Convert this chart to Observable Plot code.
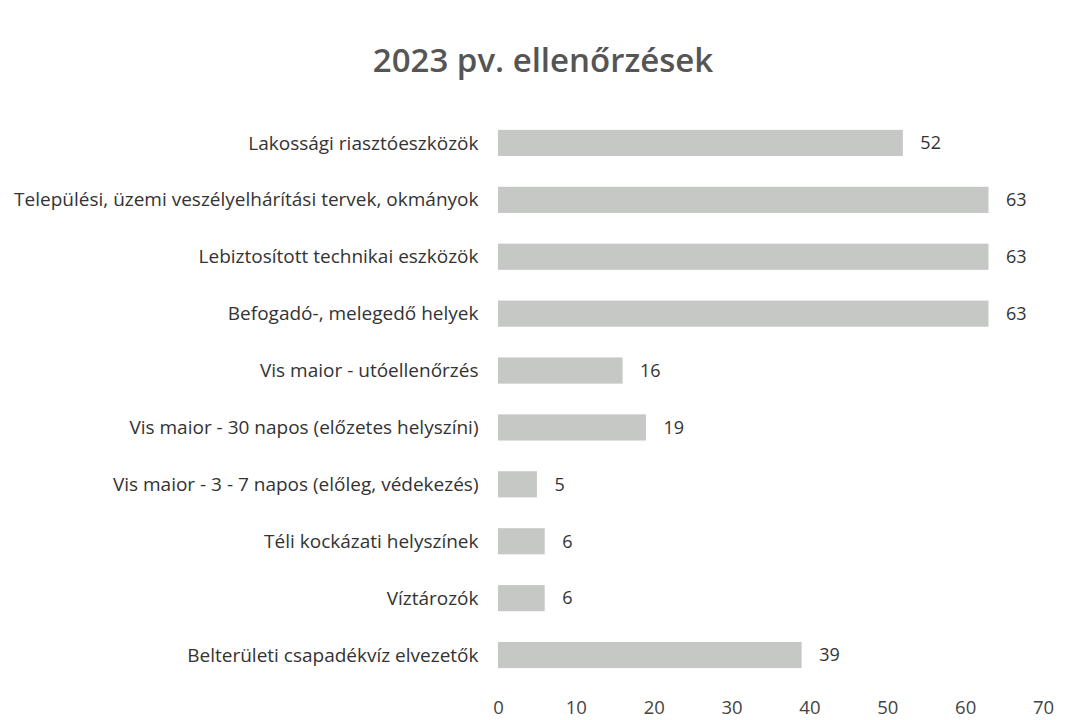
<!DOCTYPE html>
<html>
<head>
<meta charset="utf-8">
<script src="https://cdn.jsdelivr.net/npm/d3@7"></script>
<script src="https://cdn.jsdelivr.net/npm/@observablehq/plot@0.6"></script>
<style>
  html, body { margin: 0; padding: 0; background: #fff; }
  #wrap { position: relative; width: 1074px; height: 720px; overflow: hidden; }
  #title { position: absolute; left: 0; top: 37px; width: 1086px; text-align: center;
           font-family: "Open Sans", sans-serif; font-weight: 600; font-size: 33px; color: #555; }
  #chart { position: absolute; left: 0; top: 0; }
</style>
</head>
<body>
<div id="wrap">
  <div id="title">2023 pv. ellenőrzések</div>
  <div id="chart"></div>
</div>
<script>
const categories = [
  "Lakossági riasztóeszközök",
  "Települési, üzemi veszélyelhárítási tervek, okmányok",
  "Lebiztosított technikai eszközök",
  "Befogadó-, melegedő helyek",
  "Vis maior - utóellenőrzés",
  "Vis maior - 30 napos (előzetes helyszíni)",
  "Vis maior - 3 - 7 napos (előleg, védekezés)",
  "Téli kockázati helyszínek",
  "Víztározók",
  "Belterületi csapadékvíz elvezetők"
];
const values = [52, 63, 63, 63, 16, 19, 5, 6, 6, 39];
const xTicks = [0, 10, 20, 30, 40, 50, 60, 70];

const data = categories.map((c, i) => ({category: c, value: values[i]}));

const chart = Plot.plot({
  width: 1074,
  height: 720,
  marginLeft: 498,
  marginRight: 31,
  marginTop: 114.5,
  marginBottom: 36.5,
  style: {fontFamily: "'Open Sans', sans-serif", fontSize: "18px", color: "#333", background: "transparent"},
  x: {domain: [0, 70], ticks: xTicks, label: null},
  y: {domain: categories, label: null, paddingInner: 0.54, paddingOuter: 0.27, round: false},
  marks: [
    Plot.barX(data, {x: "value", y: "category", fill: "#c6c8c6"}),
    Plot.text(data, {x: "value", y: "category", text: d => String(d.value), textAnchor: "start", dx: 17, fill: "#333", fontSize: 18}),
    Plot.axisY({tickSize: 0, tickPadding: 20, fontSize: 19, label: null}),
    Plot.axisX({ticks: xTicks, tickSize: 0, tickPadding: 17, fontSize: 18.5, label: null, fill: "#444"})
  ]
});
document.getElementById("chart").appendChild(chart);
</script>
</body>
</html>
